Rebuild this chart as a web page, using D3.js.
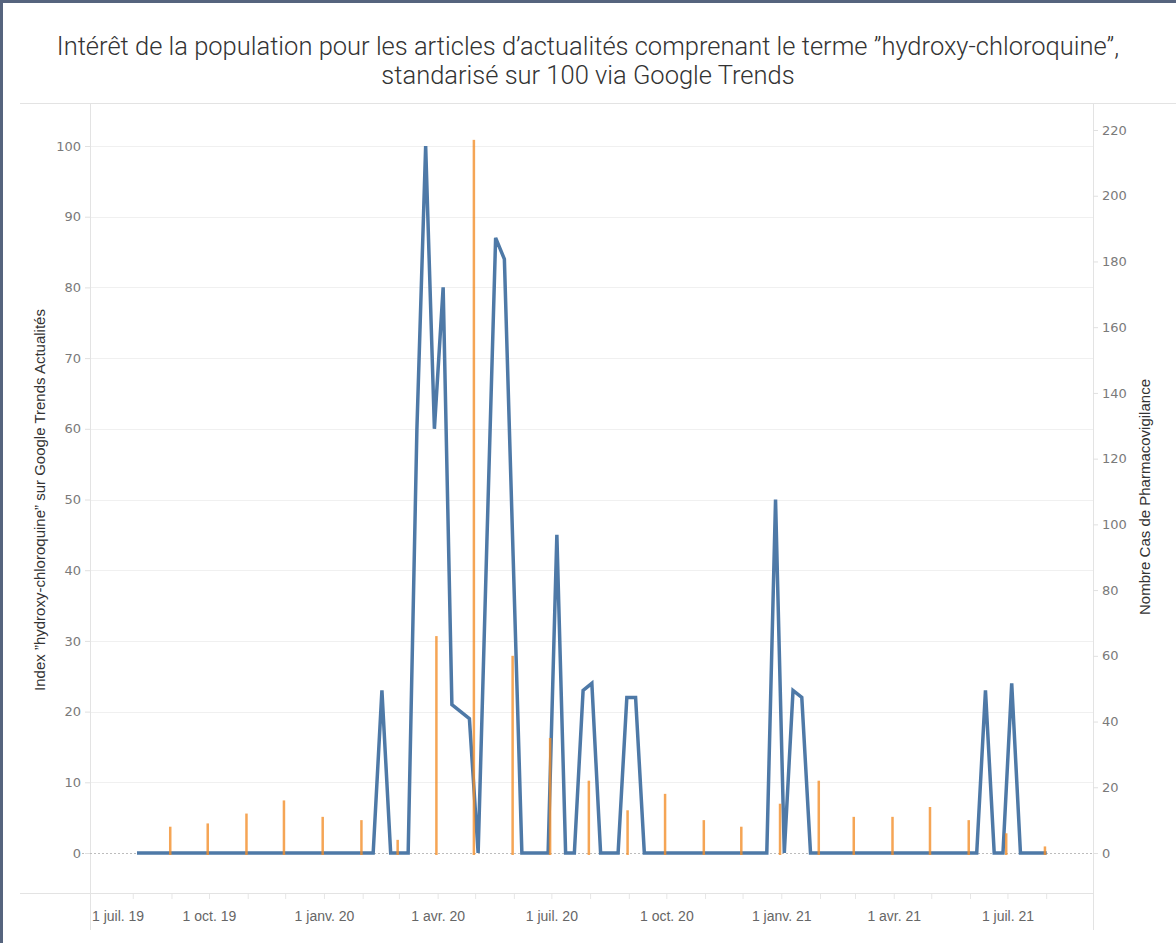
<!DOCTYPE html>
<html>
<head>
<meta charset="utf-8">
<script src="https://cdn.jsdelivr.net/npm/d3@7"></script>
<style>
  body { margin: 0; background: #fff; }
  svg { display: block; }
</style>
</head>
<body>
<div id="chart"></div>
<script>
// Google Trends index, weekly (weeks starting Sunday 4 Aug 2019 ... 1 Aug 2021)
const weekValues = [
  0, 0, 0, 0, 0, 0, 0, 0, 0, 0,
  0, 0, 0, 0, 0, 0, 0, 0, 0, 0,
  0, 0, 0, 0, 0, 0, 0, 0, 23, 0,
  0, 0, 60, 100, 60, 80, 21, 20, 19, 0,
  44, 87, 84, 42, 0, 0, 0, 0, 45, 0,
  0, 23, 24, 0, 0, 0, 22, 22, 0, 0,
  0, 0, 0, 0, 0, 0, 0, 0, 0, 0,
  0, 0, 0, 50, 0, 23, 22, 0, 0, 0,
  0, 0, 0, 0, 0, 0, 0, 0, 0, 0,
  0, 0, 0, 0, 0, 0, 0, 23, 0, 0,
  24, 0, 0, 0, 0
]
const firstWeek = '2019-08-04'

// pharmacovigilance cases, monthly
const months = [
  '2019-09', '2019-10', '2019-11', '2019-12',
  '2020-01', '2020-02', '2020-03', '2020-04', '2020-05', '2020-06',
  '2020-07', '2020-08', '2020-09', '2020-10', '2020-11', '2020-12',
  '2021-01', '2021-02', '2021-03', '2021-04', '2021-05', '2021-06',
  '2021-07', '2021-08'
]
const caseValues = [
  8, 9, 12, 16,
  11, 10, 4, 66, 217, 60,
  35, 22, 13, 18, 10, 8,
  15, 22, 11, 11, 14, 10,
  6, 2
]

const leftTicks = [0, 10, 20, 30, 40, 50, 60, 70, 80, 90, 100]
const rightTicks = [0, 20, 40, 60, 80, 100, 120, 140, 160, 180, 200, 220]
const xTickDates = ['2019-07-01', '2019-10-01', '2020-01-01', '2020-04-01', '2020-07-01',
                    '2020-10-01', '2021-01-01', '2021-04-01', '2021-07-01']
const xTickLabels = ['1 juil. 19', '1 oct. 19', '1 janv. 20', '1 avr. 20', '1 juil. 20',
                     '1 oct. 20', '1 janv. 21', '1 avr. 21', '1 juil. 21']

const titleLines = [
  'Intérêt de la population pour les articles d’actualités comprenant le terme ”hydroxy-chloroquine”,',
  'standarisé sur 100 via Google Trends'
]
const leftTitle = 'Index ”hydroxy-chloroquine” sur Google Trends Actualités'
const rightTitle = 'Nombre Cas de Pharmacovigilance'

const width = 1176
const height = 943
const paneLeft = 90
const paneRight = 1093
const paneTop = 103
const paneBottom = 893
const zeroY = 853

const parseDay = d3.timeParse('%Y-%m-%d')
const parseMonth = d3.timeParse('%Y-%m')

const start = parseDay(firstWeek)
const weeks = weekValues.map((v, i) => ({ date: d3.timeWeek.offset(start, i), v }))
const cases = months.map((m, i) => ({ date: parseMonth(m), v: caseValues[i] }))

const svg = d3.select('#chart')
              .append('svg')
              .attr('width', width)
              .attr('height', height)

const x = d3.scaleTime()
            .domain([weeks[0].date, weeks[weeks.length - 1].date])
            .range([137, 1046.7])

const yL = d3.scaleLinear()
             .domain([0, 100])
             .range([zeroY, 146])

const yR = d3.scaleLinear()
             .domain([0, 220])
             .range([zeroY, 130])

const narrow = '"Liberation Sans Narrow", "Liberation Sans", sans-serif'
const wide = '"DejaVu Sans", sans-serif'

// outer frame (only top and left edges visible)
svg.append('rect')
   .attr('x', 1.5).attr('y', 1.5)
   .attr('width', width + 20).attr('height', height + 20)
   .attr('fill', 'none')
   .attr('stroke', '#56647e')
   .attr('stroke-width', 3)

// title
svg.append('g')
   .selectAll('text')
   .data(titleLines)
   .enter().append('text')
   .attr('x', 588)
   .attr('y', (d, i) => 55 + i * 29)
   .attr('text-anchor', 'middle')
   .attr('font-family', 'Roboto, "Liberation Sans", sans-serif')
   .attr('font-weight', 300)
   .attr('font-size', 25.5)
   .attr('fill', '#333')
   .text(d => d)

// frame lines
const frame = svg.append('g').attr('stroke', '#e3e3e3').attr('stroke-width', 1)
frame.append('line').attr('x1', 20).attr('x2', width).attr('y1', paneTop + 0.5).attr('y2', paneTop + 0.5)
frame.append('line').attr('x1', 20).attr('x2', paneRight).attr('y1', paneBottom + 0.5).attr('y2', paneBottom + 0.5)
frame.append('line').attr('x1', paneLeft + 0.5).attr('x2', paneLeft + 0.5).attr('y1', paneTop).attr('y2', 930)
frame.append('line').attr('x1', paneRight + 0.5).attr('x2', paneRight + 0.5).attr('y1', paneTop).attr('y2', 930)

// gridlines
svg.append('g')
   .selectAll('line')
   .data(leftTicks.filter(d => d !== 0))
   .enter().append('line')
   .attr('x1', paneLeft + 1).attr('x2', paneRight)
   .attr('y1', d => Math.round(yL(d)) + 0.5)
   .attr('y2', d => Math.round(yL(d)) + 0.5)
   .attr('stroke', '#f0f0f0')

// zero line
svg.append('line')
   .attr('x1', 82).attr('x2', paneRight)
   .attr('y1', zeroY + 0.5).attr('y2', zeroY + 0.5)
   .attr('stroke', '#bdbdbd')
   .attr('stroke-dasharray', '2,2')

// left axis
const gL = svg.append('g')
              .attr('transform', `translate(${paneLeft}, 0)`)
              .call(d3.axisLeft(yL).tickValues(leftTicks).tickSize(5).tickPadding(4))
gL.select('.domain').remove()
gL.selectAll('line').attr('stroke', '#e0e0e0')
gL.selectAll('text').attr('fill', '#7a7a7a').attr('font-family', wide).attr('font-size', 13)

// right axis
const gR = svg.append('g')
              .attr('transform', `translate(${paneRight}, 0)`)
              .call(d3.axisRight(yR).tickValues(rightTicks).tickSize(5).tickPadding(4))
gR.select('.domain').remove()
gR.selectAll('line').attr('stroke', '#e0e0e0')
gR.selectAll('text').attr('fill', '#7a7a7a').attr('font-family', wide).attr('font-size', 13)

// bottom axis: monthly minor ticks and quarterly labels
svg.append('g')
   .selectAll('line')
   .data(d3.timeMonth.range(parseDay('2019-08-01'), parseDay('2021-09-01')))
   .enter().append('line')
   .attr('x1', d => x(d)).attr('x2', d => x(d))
   .attr('y1', paneBottom + 1).attr('y2', paneBottom + 6)
   .attr('stroke', '#e6e6e6')

svg.append('g')
   .selectAll('text')
   .data(xTickDates)
   .enter().append('text')
   .attr('x', (d, i) => i === 0 ? paneLeft + 2 : x(parseDay(d)))
   .attr('y', 921)
   .attr('text-anchor', (d, i) => i === 0 ? 'start' : 'middle')
   .attr('font-family', narrow)
   .attr('font-size', 14)
   .attr('fill', '#666')
   .text((d, i) => xTickLabels[i])

// axis titles
svg.append('text')
   .attr('transform', 'translate(45, 500) rotate(-90)')
   .attr('text-anchor', 'middle')
   .attr('font-family', narrow)
   .attr('font-size', 15)
   .attr('fill', '#333')
   .text(leftTitle)

svg.append('text')
   .attr('transform', 'translate(1150, 497) rotate(-90)')
   .attr('text-anchor', 'middle')
   .attr('font-family', narrow)
   .attr('font-size', 15)
   .attr('fill', '#333')
   .text(rightTitle)

// weekly trends line
const line = d3.line()
               .x(d => x(d.date))
               .y(d => yL(d.v))

svg.append('path')
   .datum(weeks)
   .attr('d', line)
   .attr('fill', 'none')
   .attr('stroke', '#4e79a7')
   .attr('stroke-width', 3.5)

// monthly pharmacovigilance bars
svg.append('g')
   .selectAll('rect')
   .data(cases)
   .enter().append('rect')
   .attr('x', d => x(d.date) - 3)
   .attr('width', 2.5)
   .attr('y', d => yR(d.v))
   .attr('height', d => zeroY + 2 - yR(d.v))
   .attr('fill', '#f28e2b')
   .attr('opacity', 0.8)
</script>
</body>
</html>
